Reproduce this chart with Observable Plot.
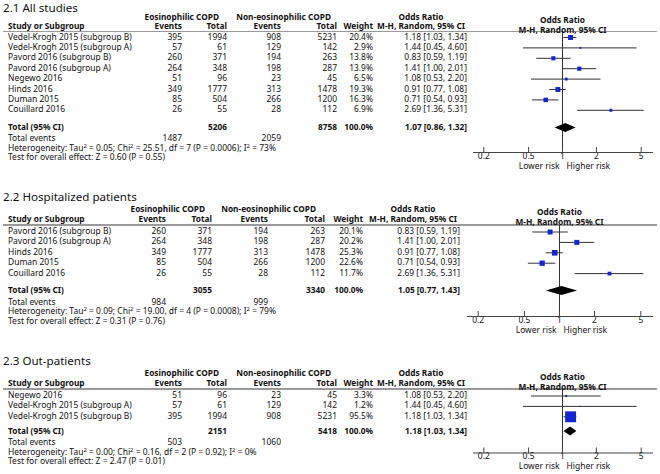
<!DOCTYPE html>
<html><head><meta charset="utf-8">
<script src="https://cdn.jsdelivr.net/npm/d3@7"></script>
<script src="https://cdn.jsdelivr.net/npm/@observablehq/plot@0.6"></script>
<style>
html,body{margin:0;padding:0;background:#fff;}
#root{position:relative;width:660px;height:474px;overflow:hidden;font-family:'Noto Sans',sans-serif;color:#111;}
.t{position:absolute;white-space:nowrap;line-height:1;}
.b{font-weight:bold;}
.layer{position:absolute;left:0;top:0;}
sup{font-size:0.7em;line-height:0;vertical-align:0.45em;}
</style></head><body><div id="root"></div>
<script>
// ---------- DATA ----------
// 2.1 All studies
const studies1 = ["Vedel-Krogh 2015 (subgroup B)", "Vedel-Krogh 2015 (subgroup A)", "Pavord 2016 (subgroup B)", "Pavord 2016 (subgroup A)", "Negewo 2016", "Hinds 2016", "Duman 2015", "Couillard 2016"];
const eosEvents1 = [395, 57, 260, 264, 51, 349, 85, 26];
const eosTotal1 = [1994, 61, 371, 348, 96, 1777, 504, 55];
const nonEvents1 = [908, 129, 194, 198, 23, 313, 266, 28];
const nonTotal1 = [5231, 142, 263, 287, 45, 1478, 1200, 112];
const weight1 = [20.4, 2.9, 13.8, 13.9, 6.5, 19.3, 16.3, 6.9];
const or1 = [1.18, 1.44, 0.83, 1.41, 1.08, 0.91, 0.71, 2.69];
const lo1 = [1.03, 0.45, 0.59, 1.00, 0.53, 0.77, 0.54, 1.36];
const hi1 = [1.34, 4.60, 1.19, 2.01, 2.20, 1.08, 0.93, 5.31];
const totals1 = {eosTotal: 5206, nonTotal: 8758, or: 1.07, lo: 0.86, hi: 1.32, eosEvents: 1487, nonEvents: 2059};
const het1 = "Heterogeneity: Tau<sup>2</sup> = 0.05; Chi<sup>2</sup> = 25.51, df = 7 (P = 0.0006); I<sup>2</sup> = 73%";
const test1 = "Test for overall effect: Z = 0.60 (P = 0.55)";

// 2.2 Hospitalized patients
const studies2 = ["Pavord 2016 (subgroup B)", "Pavord 2016 (subgroup A)", "Hinds 2016", "Duman 2015", "Couillard 2016"];
const eosEvents2 = [260, 264, 349, 85, 26];
const eosTotal2 = [371, 348, 1777, 504, 55];
const nonEvents2 = [194, 198, 313, 266, 28];
const nonTotal2 = [263, 287, 1478, 1200, 112];
const weight2 = [20.1, 20.2, 25.3, 22.6, 11.7];
const or2 = [0.83, 1.41, 0.91, 0.71, 2.69];
const lo2 = [0.59, 1.00, 0.77, 0.54, 1.36];
const hi2 = [1.19, 2.01, 1.08, 0.93, 5.31];
const totals2 = {eosTotal: 3055, nonTotal: 3340, or: 1.05, lo: 0.77, hi: 1.43, eosEvents: 984, nonEvents: 999};
const het2 = "Heterogeneity: Tau<sup>2</sup> = 0.09; Chi<sup>2</sup> = 19.00, df = 4 (P = 0.0008); I<sup>2</sup> = 79%";
const test2 = "Test for overall effect: Z = 0.31 (P = 0.76)";

// 2.3 Out-patients
const studies3 = ["Negewo 2016", "Vedel-Krogh 2015 (subgroup A)", "Vedel-Krogh 2015 (subgroup B)"];
const eosEvents3 = [51, 57, 395];
const eosTotal3 = [96, 61, 1994];
const nonEvents3 = [23, 129, 908];
const nonTotal3 = [45, 142, 5231];
const weight3 = [3.3, 1.2, 95.5];
const or3 = [1.08, 1.44, 1.18];
const lo3 = [0.53, 0.45, 1.03];
const hi3 = [2.20, 4.60, 1.34];
const totals3 = {eosTotal: 2151, nonTotal: 5418, or: 1.18, lo: 1.03, hi: 1.34, eosEvents: 503, nonEvents: 1060};
const het3 = "Heterogeneity: Tau<sup>2</sup> = 0.00; Chi<sup>2</sup> = 0.16, df = 2 (P = 0.92); I<sup>2</sup> = 0%";
const test3 = "Test for overall effect: Z = 2.47 (P = 0.01)";

const titles = ["2.1 All studies", "2.2 Hospitalized patients", "2.3 Out-patients"];
const tickValues = [0.2, 0.5, 1, 2, 5];
const axisLabels = ["Lower risk", "Higher risk"];

// ---------- LAYOUT ----------
const FONT = "'Noto Sans', sans-serif";
const ctx = document.createElement("canvas").getContext("2d");
function fit(text, weight, target) {
  ctx.font = `${weight} 100px ${FONT}`;
  return 100 * target / ctx.measureText(text).width;
}
// font sizes fitted to the text widths seen in the reference
const FS = (fit("Vedel-Krogh 2015 (subgroup B)", "normal", 122) + fit("Test for overall effect: Z = 0.60 (P = 0.55)", "normal", 160)) / 2;
const FB = (fit("Study or Subgroup", "bold", 75) + fit("Non-eosinophilic COPD", "bold", 97)) / 2;
const FT = fit("2.1 All studies", "normal", 75);

const colsA = {study: 8, ev1: 182, tot1: 227, ev2: 281, tot2: 337, wt: 373, or: 467, eosHdr: 219, nonHdr: 331, orHdr: 421};
const colsB = {study: 8, ev1: 166, tot1: 212, ev2: 268, tot2: 325, wt: 363, or: 460, eosHdr: 205, nonHdr: 316, orHdr: 413};
const L1 = {titleY: 8, hdr1Y: 17, hdr2Y: 26.5, lineY: 31.5, row0: 37, step: 10.4, totalY: 127.5, evY: 138.5, hetY: 148, testY: 157.5, axisY: 152, ax0: 473, ax1: 652, cols: colsA};
const L2 = {titleY: 197, hdr1Y: 209, hdr2Y: 219, lineY: 225, row0: 231.5, step: 10.4, totalY: 290.5, evY: 302, hetY: 311.5, testY: 321, axisY: 316, ax0: 467, ax1: 652, cols: colsB};
const L3 = {titleY: 361, hdr1Y: 373.5, hdr2Y: 383.5, lineY: 389, row0: 395.5, step: 10.4, totalY: 431, evY: 442.5, hetY: 452, testY: 461.5, axisY: 452.5, ax0: 473, ax1: 652, cols: colsA};

const root = document.getElementById("root");
function T(txt, x, y, align = "left", cls = "", size = FS) {
  const d = document.createElement("div");
  d.className = "t " + cls;
  d.style.fontSize = size + "px";
  d.style.top = (y - 0.53 * size) + "px";
  if (align === "left") d.style.left = x + "px";
  else if (align === "right") d.style.right = (660 - x) + "px";
  else { d.style.left = x + "px"; d.style.transform = "translateX(-50%)"; }
  d.innerHTML = txt;
  root.appendChild(d);
}
const B = (txt, x, y, align = "left") => T(txt, x, y, align, "b", FB);
const fmt2 = v => v.toFixed(2);
const orText = (o, l, h) => `${fmt2(o)} [${fmt2(l)}, ${fmt2(h)}]`;

function panel(title, names, ee, et, ne, nt, w, or, lo, hi, tot, het, test, L) {
  const c = L.cols;
  T(title, 3, L.titleY, "left", "", FT);
  B("Eosinophilic COPD", c.eosHdr, L.hdr1Y, "right");
  B("Non-eosinophilic COPD", c.nonHdr, L.hdr1Y, "right");
  B("Odds Ratio", c.orHdr, L.hdr1Y, "center");
  B("Study or Subgroup", c.study, L.hdr2Y);
  B("Events", c.ev1, L.hdr2Y, "right");
  B("Total", c.tot1, L.hdr2Y, "right");
  B("Events", c.ev2, L.hdr2Y, "right");
  B("Total", c.tot2, L.hdr2Y, "right");
  B("Weight", c.wt, L.hdr2Y, "right");
  B("M-H, Random, 95% CI", c.orHdr, L.hdr2Y, "center");
  const line = document.createElement("div");
  Object.assign(line.style, {position: "absolute", left: "3px", width: "654px", top: (L.lineY - 1) + "px", height: "1.6px", background: "#9a9a9a"});
  root.appendChild(line);
  names.forEach((n, i) => {
    const y = L.row0 + i * L.step;
    T(n, c.study, y);
    T(String(ee[i]), c.ev1, y, "right");
    T(String(et[i]), c.tot1, y, "right");
    T(String(ne[i]), c.ev2, y, "right");
    T(String(nt[i]), c.tot2, y, "right");
    T(w[i].toFixed(1) + "%", c.wt, y, "right");
    T(orText(or[i], lo[i], hi[i]), c.or, y, "right");
  });
  B("Total (95% CI)", c.study, L.totalY);
  B(String(tot.eosTotal), c.tot1, L.totalY, "right");
  B(String(tot.nonTotal), c.tot2, L.totalY, "right");
  B("100.0%", c.wt, L.totalY, "right");
  B(orText(tot.or, tot.lo, tot.hi), c.or, L.totalY, "right");
  T("Total events", c.study, L.evY);
  T(String(tot.eosEvents), c.ev1, L.evY, "right");
  T(String(tot.nonEvents), c.ev2, L.evY, "right");
  T(het, c.study, L.hetY);
  T(test, c.study, L.testY);

  // forest plot
  const rows = names.map((n, i) => ({i, or: or[i], lo: lo[i], hi: hi[i], w: w[i]}));
  const N = names.length;
  const tRow = (L.totalY - L.row0) / L.step;
  const hh = 4.5 / L.step;
  const diamond = [
    {x: tot.lo, y1: tRow, y2: tRow},
    {x: tot.or, y1: tRow - hh, y2: tRow + hh},
    {x: tot.hi, y1: tRow, y2: tRow}
  ];
  const chart = Plot.plot({
    width: 660, height: 474,
    marginTop: L.lineY, marginBottom: 474 - L.axisY, marginLeft: L.ax0, marginRight: 660 - L.ax1,
    style: {background: "transparent", fontFamily: FONT, fontSize: FS + "px", color: "#111", overflow: "visible"},
    x: {type: "log", domain: [0.162, 6.3], ticks: tickValues, tickSize: 0, tickPadding: 0, tickFormat: d => String(d), label: null},
    y: {domain: [0, N - 1], range: [L.row0, L.row0 + L.step * (N - 1)], axis: null},
    r: {type: "sqrt", domain: [0, 100], range: [0, 6.3]},
    marks: [
      Plot.frame({anchor: "bottom", stroke: "#444"}),
      Plot.ruleX([1], {stroke: "#333"}),
      Plot.tickX(tickValues, {x: d => d, insetTop: (L.axisY - L.lineY) - 5, insetBottom: -1, stroke: "#444"}),
      Plot.ruleY(rows, {y: "i", x1: "lo", x2: "hi", stroke: "#333"}),
      Plot.dot(rows, {x: "or", y: "i", r: "w", symbol: "square", fill: "#1426d2"}),
      Plot.areaY(diamond, {x: "x", y1: "y1", y2: "y2", fill: "black"}),
      Plot.text(["Odds Ratio"], {x: 1, frameAnchor: "top", dy: L.hdr1Y - L.lineY, fontWeight: "bold", fontSize: FB, fill: "#111"}),
      Plot.text(["M-H, Random, 95% CI"], {x: 1, frameAnchor: "top", dy: L.hdr2Y - L.lineY, fontWeight: "bold", fontSize: FB, fill: "#111"}),
      Plot.text([axisLabels[0]], {x: 1, frameAnchor: "bottom", dy: 16, dx: -3, textAnchor: "end", fill: "#111"}),
      Plot.text([axisLabels[1]], {x: 1, frameAnchor: "bottom", dy: 16, dx: 4, textAnchor: "start", fill: "#111"})
    ]
  });
  chart.classList.add("layer");
  root.appendChild(chart);
}

panel(titles[0], studies1, eosEvents1, eosTotal1, nonEvents1, nonTotal1, weight1, or1, lo1, hi1, totals1, het1, test1, L1);
panel(titles[1], studies2, eosEvents2, eosTotal2, nonEvents2, nonTotal2, weight2, or2, lo2, hi2, totals2, het2, test2, L2);
panel(titles[2], studies3, eosEvents3, eosTotal3, nonEvents3, nonTotal3, weight3, or3, lo3, hi3, totals3, het3, test3, L3);
</script></body></html>
